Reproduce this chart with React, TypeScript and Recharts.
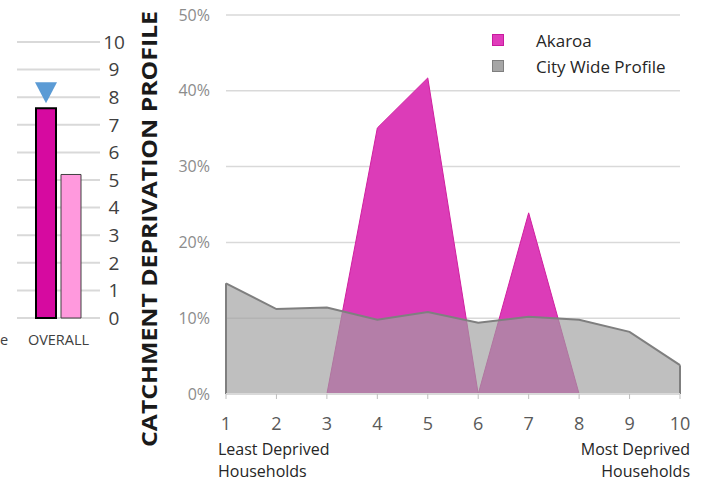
import React from 'react';
import {
  AreaChart,
  Area,
  BarChart,
  Bar,
  XAxis,
  YAxis,
  CartesianGrid,
  Legend,
  LabelList,
  ReferenceLine,
} from 'recharts';

// main chart: share of households per deprivation decile
const DECILES = [1, 2, 3, 4, 5, 6, 7, 8, 9, 10];
const AKAROA = [null, null, 0, 0.351, 0.417, 0, 0.239, 0, null, null];
const CITY_WIDE = [0.146, 0.112, 0.114, 0.098, 0.108, 0.094, 0.102, 0.098, 0.082, 0.038];
const PCT_TICKS = [0, 0.1, 0.2, 0.3, 0.4, 0.5];

// small overall score chart
const OVERALL_CATEGORIES = ['OVERALL'];
const OVERALL_AKAROA = [7.6];
const OVERALL_CITY = [5.2];
const SCORE_TICKS = [0, 1, 2, 3, 4, 5, 6, 7, 8, 9, 10];

const PINK = '#dc3cb8';
const GREY = '#a0a0a0';
const GREY_LINE = '#7f7f7f';
const FONT = '"Open Sans", "Liberation Sans", sans-serif';

const SERIES_STYLE: Record<string, { fill: string; border: string }> = {
  Akaroa: { fill: '#e03cbb', border: '#c81a9e' },
  'City Wide Profile': { fill: '#a6a6a6', border: '#7f7f7f' },
};

const mainData = DECILES.map((d, i) => ({
  decile: d,
  akaroa: AKAROA[i],
  city: CITY_WIDE[i],
}));

const overallData = OVERALL_CATEGORIES.map((c, i) => ({
  name: c,
  area: OVERALL_AKAROA[i],
  city: OVERALL_CITY[i],
}));

const firstDecile = DECILES[0];
const lastDecile = DECILES[DECILES.length - 1];

function Marker(props: any) {
  const { x, y, width } = props;
  const cx = x + width / 2;
  const tip = y - 5;
  return <path d={`M${cx - 11},${tip - 21} L${cx + 11},${tip - 21} L${cx},${tip} Z`} fill="#5b9bd5" />;
}

function LegendBox(props: any) {
  const { payload = [] } = props;
  return (
    <div style={{ fontFamily: FONT, fontSize: 17, color: '#262626' }}>
      {payload.map((p: any) => {
        const s = SERIES_STYLE[p.value] || { fill: p.color, border: p.color };
        return (
          <div key={p.value} style={{ display: 'flex', alignItems: 'center', height: 26 }}>
            <span
              style={{
                display: 'inline-block',
                width: 10,
                height: 10,
                background: s.fill,
                border: `1px solid ${s.border}`,
              }}
            />
            <span style={{ marginLeft: 32 }}>{p.value}</span>
          </div>
        );
      })}
    </div>
  );
}

export default function App() {
  return (
    <div style={{ position: 'absolute', left: 0, top: 0, width: 705, height: 481, background: '#fff', fontFamily: FONT }}>
      <div style={{ position: 'absolute', left: 0, top: 0 }}>
        <BarChart
          width={140}
          height={360}
          data={overallData}
          margin={{ top: 42, right: 10, bottom: 12, left: 17 }}
          barSize={20}
          barGap={5}
        >
          <CartesianGrid vertical={false} stroke="#d9d9d9" strokeWidth={2} />
          <XAxis
            dataKey="name"
            axisLine={false}
            tickLine={false}
            tickMargin={11}
            height={30}
            tick={{ fontSize: 14.5, fill: '#404040', fontFamily: FONT }}
          />
          <YAxis
            orientation="right"
            width={30}
            domain={[0, 10]}
            ticks={SCORE_TICKS}
            axisLine={false}
            tickLine={false}
            tickMargin={8}
            tick={{ fontSize: 19, fill: '#404040', fontFamily: FONT, textAnchor: 'middle' }}
          />
          <Bar dataKey="area" fill="#d60aa0" stroke="#000" strokeWidth={2} isAnimationActive={false}>
            <LabelList dataKey="area" content={<Marker />} />
          </Bar>
          <Bar dataKey="city" fill="#ff99dd" stroke="#404040" strokeWidth={1} isAnimationActive={false} />
        </BarChart>
      </div>

      <div style={{ position: 'absolute', left: 0, top: 330, fontSize: 14.5, color: '#404040' }}>e</div>

      <svg style={{ position: 'absolute', left: 125, top: 0 }} width={40} height={481}>
        <text
          transform="translate(32 229) rotate(-90)"
          textAnchor="middle"
          fontFamily={FONT}
          fontWeight={700}
          fontSize={22}
          textLength={436}
          lengthAdjust="spacingAndGlyphs"
          fill="#1a1a1a"
        >
          CATCHMENT DEPRIVATION PROFILE
        </text>
      </svg>

      <div style={{ position: 'absolute', left: 160, top: 0 }}>
        <AreaChart width={545} height={481} data={mainData} margin={{ top: 15, right: 25, bottom: 47, left: 0 }}>
          <CartesianGrid vertical={false} stroke="#d9d9d9" strokeWidth={1.5} />
          <XAxis
            type="number"
            dataKey="decile"
            domain={[1, 10]}
            ticks={DECILES}
            allowDecimals={false}
            height={40}
            axisLine={{ stroke: '#d9d9d9', strokeWidth: 2 }}
            tickLine={{ stroke: '#bfbfbf' }}
            tickSize={5}
            tickMargin={18}
            tick={{ fontSize: 18, fill: '#595959', fontFamily: FONT }}
          />
          <YAxis
            width={66}
            domain={[0, 0.5]}
            ticks={PCT_TICKS}
            axisLine={false}
            tickLine={false}
            tickMargin={10}
            tickFormatter={(v: number) => `${Math.round(v * 100)}%`}
            tick={{ fontSize: 16, fill: '#8c8c8c', fontFamily: FONT }}
          />
          <Legend
            layout="vertical"
            verticalAlign="middle"
            align="center"
            content={<LegendBox />}
            wrapperStyle={{ top: 27, left: 332, width: 220 }}
          />
          <Area
            type="linear"
            dataKey="akaroa"
            name="Akaroa"
            fill={PINK}
            fillOpacity={1}
            stroke="#d0209f"
            strokeWidth={1}
            isAnimationActive={false}
          />
          <Area
            type="linear"
            dataKey="city"
            name="City Wide Profile"
            fill={GREY}
            fillOpacity={0.67}
            stroke={GREY_LINE}
            strokeWidth={2}
            isAnimationActive={false}
          />
          <ReferenceLine
            segment={[
              { x: firstDecile, y: 0 },
              { x: firstDecile, y: CITY_WIDE[0] },
            ]}
            stroke={GREY_LINE}
            strokeWidth={2}
          />
          <ReferenceLine
            segment={[
              { x: lastDecile, y: 0 },
              { x: lastDecile, y: CITY_WIDE[CITY_WIDE.length - 1] },
            ]}
            stroke={GREY_LINE}
            strokeWidth={2}
          />
        </AreaChart>
      </div>

      <div style={{ position: 'absolute', left: 218, top: 438, fontSize: 16, lineHeight: '22px', color: '#262626' }}>
        Least Deprived
        <br />
        Households
      </div>
      <div
        style={{
          position: 'absolute',
          right: 705 - 690,
          top: 438,
          fontSize: 16,
          lineHeight: '22px',
          color: '#262626',
          textAlign: 'right',
        }}
      >
        Most Deprived
        <br />
        Households
      </div>
    </div>
  );
}
